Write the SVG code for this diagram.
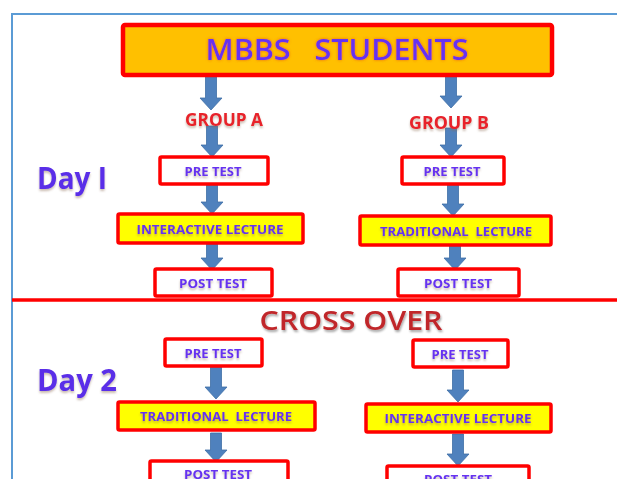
<svg xmlns="http://www.w3.org/2000/svg" width="617" height="479" viewBox="0 0 617 479">
<defs>
<filter id="glow" x="-10%" y="-30%" width="120%" height="160%">
<feGaussianBlur in="SourceAlpha" stdDeviation="1.5" result="b"/>
<feFlood flood-color="#E2541A" flood-opacity="0.8"/>
<feComposite in2="b" operator="in" result="g"/>
<feMerge><feMergeNode in="g"/><feMergeNode in="SourceGraphic"/></feMerge>
</filter>
<filter id="shadow" x="-10%" y="-30%" width="120%" height="170%">
<feGaussianBlur in="SourceAlpha" stdDeviation="1" result="b"/>
<feOffset dx="1" dy="2" result="o"/>
<feFlood flood-color="#000" flood-opacity="0.35"/>
<feComposite in2="o" operator="in" result="s"/>
<feMerge><feMergeNode in="s"/><feMergeNode in="SourceGraphic"/></feMerge>
</filter>
<filter id="soft" x="-10%" y="-30%" width="120%" height="170%">
<feGaussianBlur in="SourceAlpha" stdDeviation="0.8" result="b"/>
<feOffset dx="0" dy="1.5" result="o"/>
<feFlood flood-color="#8A6A50" flood-opacity="0.45"/>
<feComposite in2="o" operator="in" result="s"/>
<feMerge><feMergeNode in="s"/><feMergeNode in="SourceGraphic"/></feMerge>
</filter>
</defs>
<style>
.frame{fill:none;stroke:#5B9BD5;stroke-width:2}
.box{fill:#FFFFFF;stroke:#FF0000;stroke-width:3.5}
.lec{fill:#FFFF00;stroke:#FF0000;stroke-width:3.5}
.top{fill:#FFC000;stroke:#FF0000;stroke-width:4.5}
.lbl{font-family:"Open Sans","Liberation Sans",sans-serif;font-weight:bold;font-size:13px;fill:#6633F0;text-anchor:middle}
.day{font-family:"Open Sans","Liberation Sans",sans-serif;font-weight:bold;font-size:30px;fill:#5A2EE8}
.grp{font-family:"Open Sans","Liberation Sans",sans-serif;font-weight:bold;font-size:17px;fill:#E8202A;text-anchor:middle}
.arrow{fill:#4F81BD;stroke:#3F6EA6;stroke-width:0.8}
</style>
<rect class="frame" x="12" y="14" width="620" height="480"/>
<line x1="12" y1="300" x2="617" y2="300" stroke="#FF0000" stroke-width="3.5"/>

<g id="connectors">
<polygon class="arrow" points="205.5,76 216.5,76 216.5,98 222,98 211,110 200,98 205.5,98"/>
<polygon class="arrow" points="445.5,76 456.5,76 456.5,96 462,96 451,108 440,96 445.5,96"/>
<polygon class="arrow" points="206.5,126 217.5,126 217.5,145 223,145 212,157 201,145 206.5,145"/>
<polygon class="arrow" points="445.5,128 456.5,128 456.5,145 462,145 451,157 440,145 445.5,145"/>
<polygon class="arrow" points="206.5,185 217.5,185 217.5,202 223,202 212,214 201,202 206.5,202"/>
<polygon class="arrow" points="447.5,185 458.5,185 458.5,204 464,204 453,216 442,204 447.5,204"/>
<polygon class="arrow" points="206.5,244 217.5,244 217.5,258 223,258 212,270 201,258 206.5,258"/>
<polygon class="arrow" points="449.5,246 460.5,246 460.5,258 466,258 455,270 444,258 449.5,258"/>
<polygon class="arrow" points="210.5,367 221.5,367 221.5,387 227,387 216,399 205,387 210.5,387"/>
<polygon class="arrow" points="452.5,370 463.5,370 463.5,390 469,390 458,402 447,390 452.5,390"/>
<polygon class="arrow" points="210.5,433 221.5,433 221.5,450 227,450 216,462 205,450 210.5,450"/>
<polygon class="arrow" points="452.5,434 463.5,434 463.5,454 469,454 458,466 447,454 452.5,454"/>
</g>

<g id="mbbs">
<rect class="top" x="123" y="25" width="429" height="50" rx="2"/>
<text x="337" y="60" font-family="'Open Sans','Liberation Sans',sans-serif" font-size="28" font-weight="600" fill="#6633F0" text-anchor="middle" textLength="263" lengthAdjust="spacingAndGlyphs" filter="url(#glow)" xml:space="preserve">MBBS   STUDENTS</text>
</g>

<g id="groupA"><text class="grp" x="224" y="126" textLength="78" lengthAdjust="spacingAndGlyphs" filter="url(#soft)">GROUP A</text></g>
<g id="groupB"><text class="grp" x="449" y="129" textLength="80" lengthAdjust="spacingAndGlyphs" filter="url(#soft)">GROUP B</text></g>

<g id="day1"><text class="day" x="37" y="189" textLength="70" lengthAdjust="spacingAndGlyphs" filter="url(#soft)">Day I</text></g>
<g id="day2"><text class="day" x="37" y="391" textLength="80" lengthAdjust="spacingAndGlyphs" filter="url(#soft)">Day 2</text></g>

<g id="preA1"><rect class="box" x="160" y="157" width="108" height="27" rx="1.5"/><text class="lbl" x="213" y="176" textLength="57" lengthAdjust="spacingAndGlyphs" filter="url(#soft)">PRE TEST</text></g>
<g id="preB1"><rect class="box" x="402" y="157" width="102" height="27" rx="1.5"/><text class="lbl" x="452" y="176" textLength="57" lengthAdjust="spacingAndGlyphs" filter="url(#soft)">PRE TEST</text></g>
<g id="lecA1"><rect class="lec" x="118" y="214" width="185" height="29" rx="1.5"/><text class="lbl" x="210" y="234" textLength="147" lengthAdjust="spacingAndGlyphs" filter="url(#soft)">INTERACTIVE LECTURE</text></g>
<g id="lecB1"><rect class="lec" x="360" y="216" width="191" height="29" rx="1.5"/><text class="lbl" x="456" y="236" textLength="152" lengthAdjust="spacingAndGlyphs" filter="url(#soft)" xml:space="preserve">TRADITIONAL  LECTURE</text></g>
<g id="postA1"><rect class="box" x="155" y="269" width="117" height="27" rx="1.5"/><text class="lbl" x="213" y="288" textLength="68" lengthAdjust="spacingAndGlyphs" filter="url(#soft)">POST TEST</text></g>
<g id="postB1"><rect class="box" x="398" y="269" width="121" height="27" rx="1.5"/><text class="lbl" x="458" y="288" textLength="68" lengthAdjust="spacingAndGlyphs" filter="url(#soft)">POST TEST</text></g>

<g id="crossover"><text x="351" y="330" font-family="'Open Sans','Liberation Sans',sans-serif" font-size="27" font-weight="600" fill="#C0282A" text-anchor="middle" textLength="183" lengthAdjust="spacingAndGlyphs" filter="url(#shadow)">CROSS OVER</text></g>

<g id="preA2"><rect class="box" x="165" y="339" width="97" height="27" rx="1.5"/><text class="lbl" x="213" y="358" textLength="57" lengthAdjust="spacingAndGlyphs" filter="url(#soft)">PRE TEST</text></g>
<g id="preB2"><rect class="box" x="413" y="340" width="95" height="27" rx="1.5"/><text class="lbl" x="460" y="359" textLength="57" lengthAdjust="spacingAndGlyphs" filter="url(#soft)">PRE TEST</text></g>
<g id="lecA2"><rect class="lec" x="118" y="402" width="197" height="28" rx="1.5"/><text class="lbl" x="216" y="421" textLength="152" lengthAdjust="spacingAndGlyphs" filter="url(#soft)" xml:space="preserve">TRADITIONAL  LECTURE</text></g>
<g id="lecB2"><rect class="lec" x="366" y="404" width="185" height="28" rx="1.5"/><text class="lbl" x="458" y="423" textLength="147" lengthAdjust="spacingAndGlyphs" filter="url(#soft)">INTERACTIVE LECTURE</text></g>
<g id="postA2"><rect class="box" x="150" y="461" width="138" height="30" rx="1.5"/><text class="lbl" x="218" y="479" textLength="68" lengthAdjust="spacingAndGlyphs" filter="url(#soft)">POST TEST</text></g>
<g id="postB2"><rect class="box" x="387" y="466" width="142" height="30" rx="1.5"/><text class="lbl" x="458" y="484" textLength="68" lengthAdjust="spacingAndGlyphs" filter="url(#soft)">POST TEST</text></g>
</svg>
